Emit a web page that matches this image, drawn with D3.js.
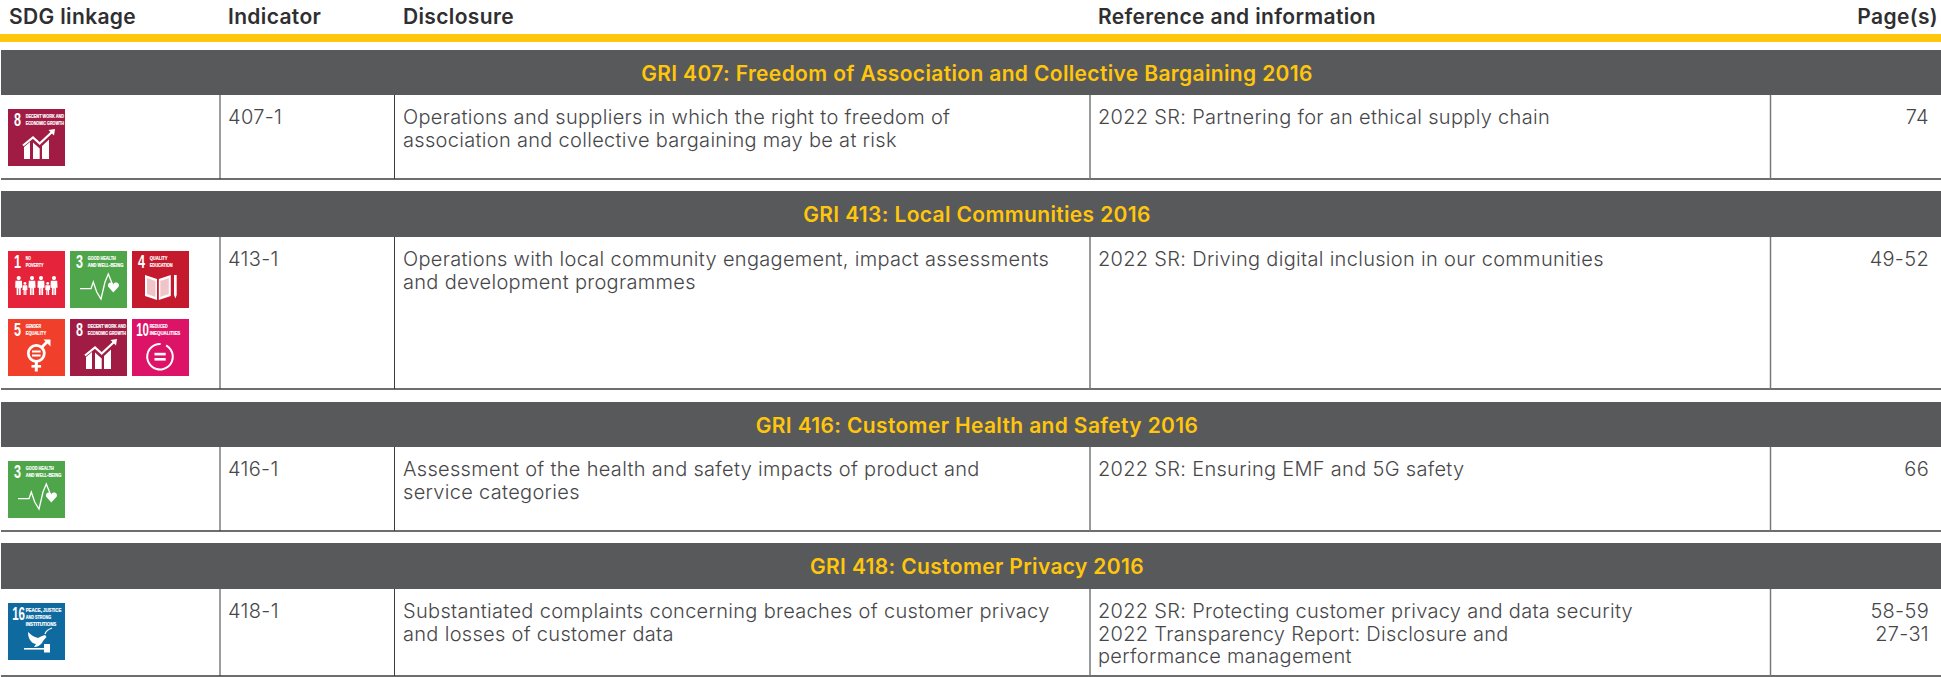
<!DOCTYPE html>
<html>
<head>
<meta charset="utf-8">
<style>
  html, body { margin: 0; padding: 0; background: #fff; overflow: hidden; }
  text { font-family: Inter, "Open Sans", sans-serif; }
  .cap, .num { font-family: "Liberation Sans Narrow", "Liberation Sans", sans-serif; }
</style>
<script src="https://d3js.org/d3.v7.min.js"></script>
</head>
<body>
<div id="my_table"></div>
<script>
// contenido de la tabla
var headers = ["SDG linkage", "Indicator", "Disclosure", "Reference and information", "Page(s)"];
var sections = [
  "GRI 407: Freedom of Association and Collective Bargaining 2016",
  "GRI 413: Local Communities 2016",
  "GRI 416: Customer Health and Safety 2016",
  "GRI 418: Customer Privacy 2016"
];
var indicators = ["407-1", "413-1", "416-1", "418-1"];
var disclosures = [
  ["Operations and suppliers in which the right to freedom of", "association and collective bargaining may be at risk"],
  ["Operations with local community engagement, impact assessments", "and development programmes"],
  ["Assessment of the health and safety impacts of product and", "service categories"],
  ["Substantiated complaints concerning breaches of customer privacy", "and losses of customer data"]
];
var references = [
  ["2022 SR: Partnering for an ethical supply chain"],
  ["2022 SR: Driving digital inclusion in our communities"],
  ["2022 SR: Ensuring EMF and 5G safety"],
  ["2022 SR: Protecting customer privacy and data security", "2022 Transparency Report: Disclosure and", "performance management"]
];
var pages = [["74"], ["49-52"], ["66"], ["58-59", "27-31"]];
var rowGoals = [[8], [1, 3, 4, 5, 8, 10], [3], [16]];

var goalNumbers = [1, 3, 4, 5, 8, 10, 16];
var goalColors = ["#e5243b", "#4fa64a", "#c5192d", "#f0402b", "#a01c44", "#dd1367", "#0f6a9f"];
var goalTitles = [
  ["NO", "POVERTY"],
  ["GOOD HEALTH", "AND WELL-BEING"],
  ["QUALITY", "EDUCATION"],
  ["GENDER", "EQUALITY"],
  ["DECENT WORK AND", "ECONOMIC GROWTH"],
  ["REDUCED", "INEQUALITIES"],
  ["PEACE, JUSTICE", "AND STRONG", "INSTITUTIONS"]
];

// dimensiones
var width = 1941, height = 677;
var dark = "#58595b", yellow = "#ffc60b", ink = "#47474a";
var bandTop = [50, 191, 402, 543];
var rowTop = [95, 237, 447, 589];
var rowBottom = [180, 390, 532, 677];
var colLines = [220, 394.5, 1090, 1770.5];
var textX = [9, 228, 403, 1098];
var iconSize = 57;
var lineGap = 22.6;

var svg = d3.select("#my_table").append("svg")
  .attr("width", width)
  .attr("height", height)
  .style("display", "block");

var goalColor = d3.scaleOrdinal().domain(goalNumbers).range(goalColors);
var goalTitle = d3.scaleOrdinal().domain(goalNumbers).range(goalTitles);

// cabecera
svg.selectAll(".head")
  .data(headers.slice(0, 4))
  .enter().append("text")
    .attr("class", "head")
    .attr("x", function(d, i) { return textX[i]; })
    .attr("y", 23.5)
    .attr("font-size", 21)
    .attr("font-weight", 600)
    .attr("letter-spacing", 0.35)
    .attr("fill", "#2f2f31")
    .text(function(d) { return d; });
svg.append("text")
  .attr("x", 1938).attr("y", 23.5)
  .attr("text-anchor", "end")
  .attr("font-size", 21)
  .attr("font-weight", 600)
  .attr("letter-spacing", 0.35)
  .attr("fill", "#2f2f31")
  .text(headers[4]);
svg.append("rect")
  .attr("x", 0).attr("y", 34)
  .attr("width", width).attr("height", 8)
  .attr("fill", yellow);

// una fila por seccion
var row = svg.selectAll(".row")
  .data(sections)
  .enter().append("g")
    .attr("class", "row");

row.append("rect")
  .attr("x", 1)
  .attr("y", function(d, i) { return bandTop[i]; })
  .attr("width", width - 1)
  .attr("height", function(d, i) { return rowTop[i] - bandTop[i]; })
  .attr("fill", dark);

row.append("text")
  .attr("x", 977)
  .attr("y", function(d, i) { return bandTop[i] + 31; })
  .attr("text-anchor", "middle")
  .attr("font-size", 21)
  .attr("font-weight", 600)
  .attr("letter-spacing", 0.35)
  .attr("fill", yellow)
  .text(function(d) { return d; });

// linea inferior y separadores
row.append("line")
  .attr("x1", 1).attr("x2", width)
  .attr("y1", function(d, i) { return rowBottom[i] - 1; })
  .attr("y2", function(d, i) { return rowBottom[i] - 1; })
  .attr("stroke", function(d, i) { return i == 3 ? "#3c3c3e" : "#6d6e70"; })
  .attr("stroke-width", function(d, i) { return i == 3 ? 1.5 : 2; });

colLines.forEach(function(x, c) {
  row.append("line")
    .attr("x1", x).attr("x2", x)
    .attr("y1", function(d, i) { return rowTop[i]; })
    .attr("y2", function(d, i) { return rowBottom[i] - 1; })
    .attr("stroke", c < 2 ? "#3c3c3e" : "#77787a")
    .attr("stroke-width", c < 2 ? 1 : 1.5);
});

function addLines(sel, lines, x, anchor) {
  sel.each(function(d, i) {
    d3.select(this).selectAll(null)
      .data(lines[i])
      .enter().append("text")
        .attr("x", x)
        .attr("y", function(t, k) { return rowTop[i] + 29 + k * lineGap; })
        .attr("text-anchor", anchor)
        .attr("font-size", 20)
        .attr("font-weight", 300)
        .attr("letter-spacing", 0.31)
        .attr("fill", ink)
        .text(function(t) { return t; });
  });
}
addLines(row, indicators.map(function(d) { return [d]; }), textX[1], "start");
addLines(row, disclosures, textX[2], "start");
addLines(row, references, textX[3], "start");
addLines(row, pages, 1929, "end");

// iconos SDG
function person(p, cx, top, bottom) {
  var h = bottom - top, w = h * 0.17;
  p.append("circle").attr("cx", cx).attr("cy", top + h * 0.11).attr("r", h * 0.11);
  p.append("path").attr("d", "M" + (cx - w) + " " + (top + h * 0.25) + "H" + (cx + w) +
    "L" + (cx + w * 1.1) + " " + (top + h * 0.62) + "H" + (cx + w * 0.65) + "V" + bottom +
    "H" + (cx + w * 0.1) + "V" + (top + h * 0.65) + "H" + (cx - w * 0.1) + "V" + bottom +
    "H" + (cx - w * 0.65) + "V" + (top + h * 0.62) + "H" + (cx - w * 1.1) + "Z");
}

var pictograms = {
  1: function(p) {
    person(p, 10.7, 25, 44);
    person(p, 17, 31, 44);
    person(p, 24, 25, 44);
    person(p, 33, 25, 44);
    person(p, 39.7, 31, 44);
    person(p, 46, 25, 44);
  },
  3: function(p) {
    p.append("path")
      .attr("d", "M10 37.7H21L23.3 31L26.7 41L31 48L35 31L38.3 23L42.3 33")
      .attr("fill", "none").attr("stroke", "#fff").attr("stroke-width", 1.3);
    p.append("path").attr("d", "M38 35.5C37 31 42.5 30.5 43.3 33.5C44 30.5 50 31 48.8 35.5L43.3 41.5Z");
  },
  4: function(p) {
    p.append("path").attr("d", "M13 24L25 28V49L13 45Z M26.8 28L38.8 24V45L26.8 49Z");
    p.append("path").attr("d", "M15 27L23.5 30V46L15 43Z M28.3 30L36.8 27V43L28.3 46Z").attr("fill", goalColor(4)).attr("opacity", 0.25);
    p.append("path").attr("d", "M42 24H44.7V44L43.4 47.5L42 44Z");
  },
  5: function(p) {
    p.append("circle").attr("cx", 28.3).attr("cy", 34.3).attr("r", 8)
      .attr("fill", "none").attr("stroke", "#fff").attr("stroke-width", 2.8);
    p.append("rect").attr("x", 26.8).attr("y", 42).attr("width", 3).attr("height", 10.5);
    p.append("rect").attr("x", 23.5).attr("y", 46).attr("width", 9.6).attr("height", 2.6);
    p.append("path").attr("d", "M33 29L39 23").attr("stroke", "#fff").attr("stroke-width", 2.8);
    p.append("path").attr("d", "M35.5 20.5H42.5V27.5Z");
    p.append("rect").attr("x", 24).attr("y", 31.5).attr("width", 8.6).attr("height", 2);
    p.append("rect").attr("x", 24).attr("y", 35.5).attr("width", 8.6).attr("height", 2);
  },
  8: function(p) {
    p.append("path").attr("d", "M16 38L22 33V50H16ZM25 33.5L31.7 39.5V50H25ZM34 37L41 30.5V50H34Z");
    p.append("path").attr("d", "M15 36.5L25 28.5L31.7 34.5L44 23").attr("fill", "none").attr("stroke", "#fff").attr("stroke-width", 2.2);
    p.append("path").attr("d", "M40.5 21L47 20L46 26.5Z");
  },
  10: function(p) {
    p.append("path")
      .attr("d", d3.arc().innerRadius(11.8).outerRadius(13.8).startAngle(0.5).endAngle(2 * Math.PI + 0.05)())
      .attr("transform", "translate(28,37.7)");
    p.append("rect").attr("x", 22.5).attr("y", 33.8).attr("width", 11.2).attr("height", 2.6);
    p.append("rect").attr("x", 22.5).attr("y", 39).attr("width", 11.2).attr("height", 2.6);
  },
  16: function(p) {
    p.append("path").attr("d", "M20 29C24 33 27 34 30 35L34 33L37 32L38.5 34L35 38C33 43 28 44 26 44L28 41C22 40 20 34 20 29Z");
    p.append("path").attr("d", "M37 31C38 28 41 26 44 25").attr("fill", "none").attr("stroke", "#fff").attr("stroke-width", 1.2);
    p.append("rect").attr("x", 16).attr("y", 45).attr("width", 21).attr("height", 1.6);
    p.append("rect").attr("x", 36).attr("y", 41).attr("width", 6).attr("height", 8.5);
  }
};

function drawIcon(g, goal) {
  g.append("rect")
    .attr("width", iconSize).attr("height", iconSize)
    .attr("fill", goalColor(goal));
  // numero comprimido a lo ancho
  g.append("text")
    .attr("class", "num")
    .attr("transform", goal > 9 ? "translate(4.2,17) scale(0.64,1)" : "translate(6,17) scale(0.7,1)")
    .attr("font-size", 18)
    .attr("font-weight", 700)
    .attr("fill", "#fff")
    .text(goal);
  g.selectAll(".cap")
    .data(goalTitle(goal))
    .enter().append("text")
      .attr("class", "cap")
      .attr("font-size", 5.6)
      .attr("font-weight", 700)
      .attr("fill", "#fff")
      .attr("stroke", "#fff")
      .attr("stroke-width", 0.2)
      .text(function(d) { return d; })
      .attr("transform", function(d, k) {
        var sx = d.length * 2.55 / this.getComputedTextLength();
        return "translate(17.7," + (9.4 + k * 7) + ") scale(" + sx + ",1)";
      });
  pictograms[goal](g.append("g").attr("fill", "#fff").attr("stroke", "none"));
}

row.each(function(d, i) {
  var r = d3.select(this);
  rowGoals[i].forEach(function(goal, k) {
    var g = r.append("g")
      .attr("transform", "translate(" + (8 + (k % 3) * 62) + "," + (rowTop[i] + 14 + Math.floor(k / 3) * 68) + ")");
    drawIcon(g, goal);
  });
});
</script>
</body>
</html>
